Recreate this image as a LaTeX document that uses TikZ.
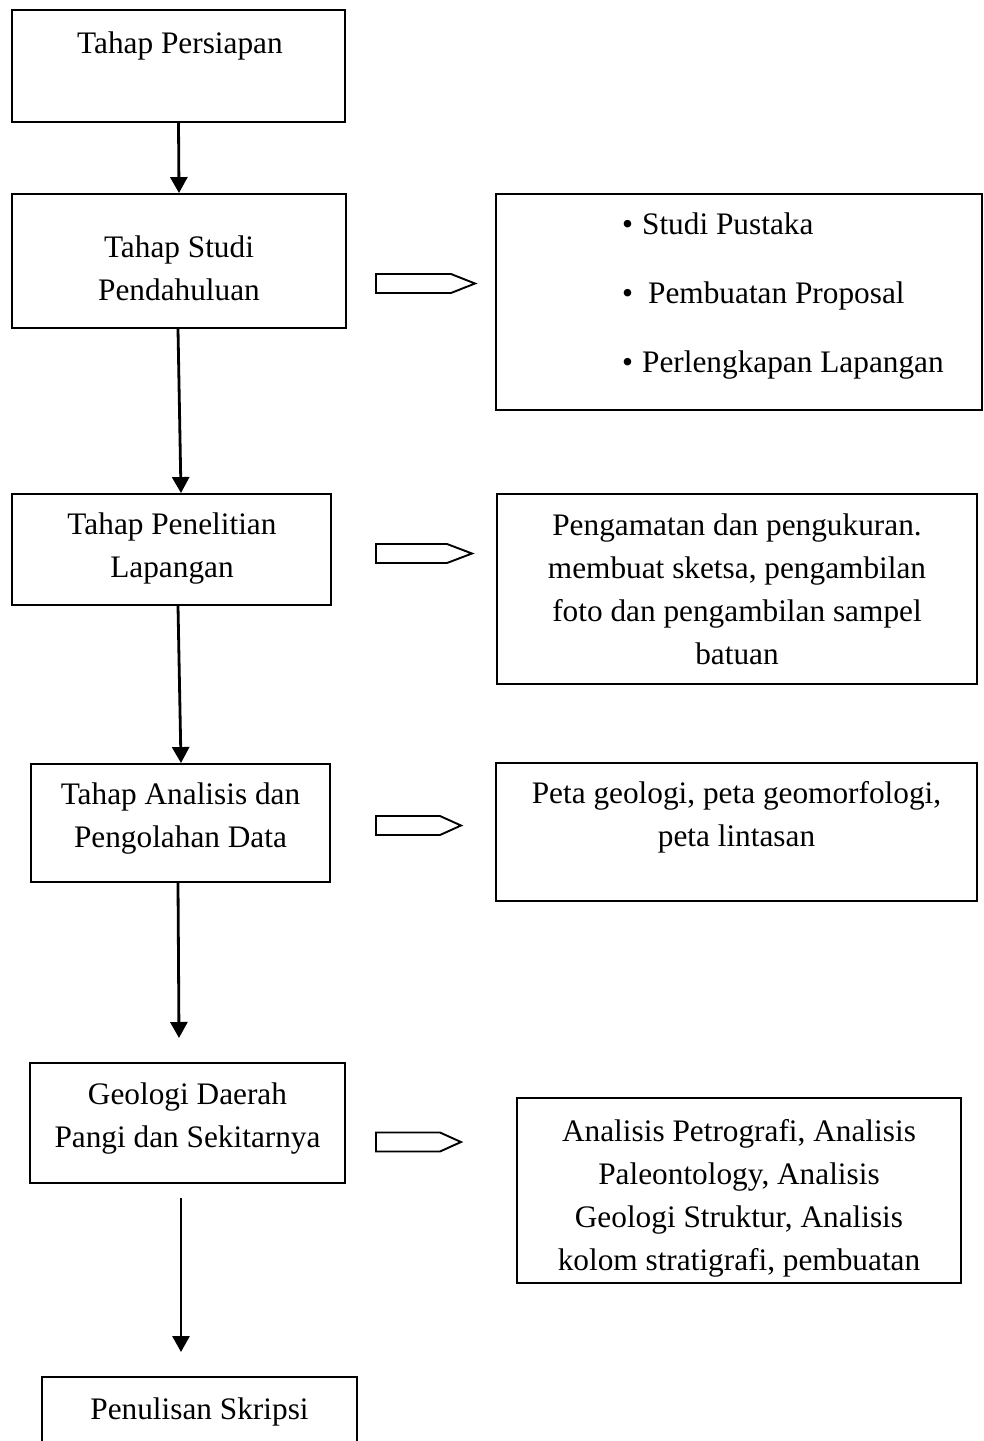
\documentclass[tikz,border=0pt]{standalone}
\usepackage{fontspec}
\setmainfont{Liberation Serif}
\usetikzlibrary{arrows.meta}
\tikzset{
  box/.style={draw, line width=1.9pt, inner sep=0pt},
  txt/.style={font=\fontsize{31.3}{43}\selectfont, align=center, inner sep=0pt},
  flow/.style={line width=2.8pt, -{Triangle[length=16pt,width=17pt]}},
  hollow/.style={line width=1.9pt, line join=miter}
}
\begin{document}
\begin{tikzpicture}[x=1pt, y=-1pt]
  \useasboundingbox (0,0) rectangle (984,1441); \clip (0,0) rectangle (984,1441);
  % stages on the left
  \node[box, minimum width=333pt, minimum height=112pt] (persiapan) at (178.5,66) {};
  \node[box, minimum width=334pt, minimum height=134pt] (studi) at (179,261) {};
  \node[box, minimum width=319pt, minimum height=111pt] (penelitian) at (171.5,549.5) {};
  \node[box, minimum width=299pt, minimum height=118pt] (analisis) at (180.5,823) {};
  \node[box, minimum width=315pt, minimum height=120pt] (geologi) at (187.5,1123) {};
  \node[box, minimum width=315pt, minimum height=103pt] (skripsi) at (199.5,1428.5) {};
  \node[txt] (persiapan-t) at (180,45.5) {Tahap Persiapan};
  \node[txt] (studi-t) at (179,268) {Tahap Studi\\Pendahuluan};
  \node[txt] (penelitian-t) at (172,549) {Tahap Penelitian\\Lapangan};
  \node[txt] (analisis-t) at (180.5,818.5) {Tahap Analisis dan\\Pengolahan Data};
  \node[txt] (geologi-t) at (187.5,1119) {Geologi Daerah\\Pangi dan Sekitarnya};
  \node[txt] (skripsi-t) at (199.5,1412) {Penulisan Skripsi};
  % results on the right
  \node[box, minimum width=486pt, minimum height=216pt] (pustaka) at (739,302) {};
  \node[box, minimum width=480pt, minimum height=190pt] (lapangan) at (737,589) {};
  \node[box, minimum width=481pt, minimum height=138pt] (peta) at (736.5,832) {};
  \node[box, minimum width=444pt, minimum height=185pt] (petro) at (739,1190.5) {};
  \node[txt, align=left, anchor=west] (pustaka-t) at (622,296)
    {\textbullet\hspace{9pt}Studi Pustaka\\[26pt]\textbullet\hspace{15pt}Pembuatan Proposal\\[26pt]\textbullet\hspace{9pt}Perlengkapan Lapangan};
  \node[txt] (lapangan-t) at (737,589.5) {Pengamatan dan pengukuran.\\membuat sketsa, pengambilan\\foto dan pengambilan sampel\\batuan};
  \node[txt] (peta-t) at (736.5,817) {Peta geologi, peta geomorfologi,\\peta lintasan};
  \node[txt] (petro-t) at (739,1198.5) {Analisis Petrografi, Analisis\\Paleontology, Analisis\\Geologi Struktur, Analisis\\kolom stratigrafi, pembuatan};
  % flow
  \coordinate (analisis-end) at (179,1038);
  \coordinate (geologi-out) at (181,1198);
  \coordinate (skripsi-in) at (181,1352);
  \draw[flow] (persiapan.south) -- (studi.north);
  \draw[flow] ([xshift=-1pt]studi.south) -- ([xshift=9.5pt]penelitian.north);
  \draw[flow] ([xshift=6.5pt]penelitian.south) -- ([xshift=0.5pt]analisis.north);
  \draw[flow] ([xshift=-2.5pt]analisis.south) -- (analisis-end);
  \draw[flow] (geologi-out) -- (skripsi-in);
  % hollow arrows
  \foreach \y/\b/\t in {283.5/451/475, 553.5/447/472, 825.5/440/461, 1142/440/461}
    \draw[hollow] (376,\y-9.5) -- (\b,\y-9.5) -- (\t,\y) -- (\b,\y+9.5) -- (376,\y+9.5) -- cycle;
\end{tikzpicture}
\end{document}
